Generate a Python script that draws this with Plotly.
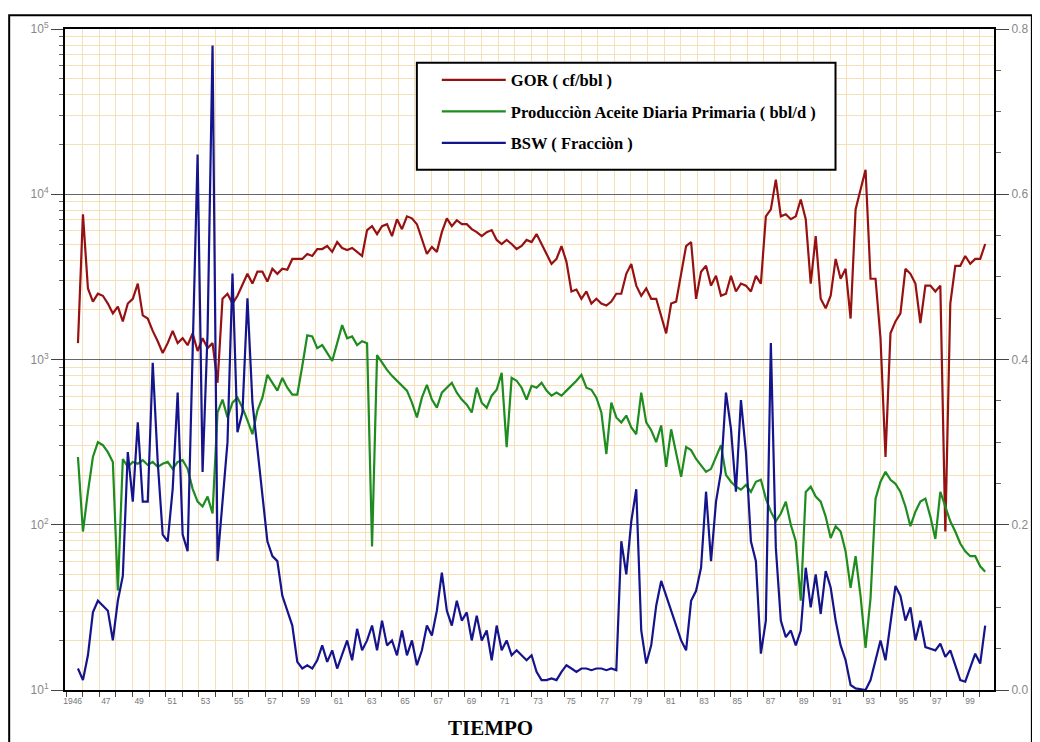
import plotly.graph_objects as go

# ---------------- data ----------------
t0 = 1945.72      # first sample (year)
dt = 0.3          # sampling step (years)

gor = [
    1256, 7560, 2690, 2240, 2500, 2430, 2180, 1900, 2090, 1700,
    2180, 2330, 2880, 1850, 1770, 1490, 1290, 1094, 1256, 1490,
    1256, 1345, 1220, 1440, 1125, 1345, 1172, 1256, 723, 2330,
    2500, 2180, 2430, 2800, 3300, 2880, 3400, 3400, 2960, 3540,
    3300, 3540, 3490, 4060, 4060, 4060, 4350, 4230, 4660, 4660,
    4860, 4480, 5140, 4730, 4600, 4730, 4480, 4230, 6070, 6410,
    5740, 6410, 6590, 5580, 7060, 6150, 7350, 7150, 6590, 5350,
    4350, 4800, 4480, 5900, 7150, 6410, 6960, 6590, 6590, 6150,
    5900, 5580, 5900, 6070, 5290, 5000, 5290, 5000, 4660, 4860,
    5290, 5140, 5740, 5000, 4350, 3790, 4060, 4860, 3900, 2580,
    2650, 2330, 2580, 2180, 2330, 2180, 2120, 2240, 2500, 2500,
    3300, 3790, 2800, 2430, 2690, 2330, 2330, 1850, 1440, 2180,
    2240, 3300, 4860, 5140, 2330, 3400, 3690, 2800, 3210, 2430,
    2500, 3210, 2580, 2880, 2800, 2580, 3210, 2880, 7350, 8100,
    12250, 7350, 7560, 7060, 7350, 9300, 7060, 2880, 5580, 2330,
    2040, 2430, 4060, 3080, 3540, 1770, 8100, 10670, 14070, 3080,
    3080, 1345, 257, 1440, 1700, 1900, 3540, 3300, 2880, 1660,
    2800, 2800, 2580, 2800, 91, 2180, 3690, 3690, 4230, 3790,
    4060, 4060, 5000,
]

oil = [
    257, 91, 158, 257, 316, 303, 275, 240, 40, 250,
    224, 240, 234, 246, 230, 240, 224, 234, 240, 218,
    240, 246, 218, 165, 138, 129, 148, 117, 478, 572,
    446, 548, 588, 511, 428, 353, 491, 588, 808, 723,
    648, 774, 675, 613, 613, 914, 1400, 1380, 1172, 1222,
    1094, 980, 1256, 1615, 1345, 1380, 1222, 1290, 1256, 74,
    1064, 953, 865, 796, 744, 693, 648, 548, 446, 588,
    703, 572, 511, 630, 675, 723, 630, 572, 533, 478,
    675, 548, 511, 604, 656, 830, 295, 774, 744, 675,
    572, 693, 675, 723, 648, 604, 630, 604, 648, 693,
    744, 808, 675, 656, 588, 478, 268, 548, 446, 416,
    458, 388, 353, 630, 416, 373, 316, 399, 224, 378,
    275, 195, 295, 283, 250, 230, 209, 218, 257, 303,
    200, 182, 170, 163, 174, 158, 182, 187, 144, 120,
    105, 117, 138, 100, 79.4, 34.7, 158, 170, 148, 138,
    112, 83, 98, 91, 69, 41.5, 64.5, 37, 18, 36,
    144, 182, 209, 187, 177, 158, 129, 98, 120, 138,
    144, 112, 82, 158, 129, 105, 91, 77, 69, 64.5,
    64.5, 56, 52,
]

bsw = [
    0.026, 0.012, 0.042, 0.094, 0.108, 0.102, 0.096, 0.060, 0.108, 0.138,
    0.288, 0.228, 0.324, 0.228, 0.228, 0.396, 0.276, 0.188, 0.180, 0.243,
    0.360, 0.188, 0.168, 0.408, 0.648, 0.264, 0.432, 0.780, 0.156, 0.228,
    0.300, 0.504, 0.312, 0.336, 0.474, 0.348, 0.291, 0.240, 0.180, 0.162,
    0.156, 0.114, 0.096, 0.078, 0.034, 0.026, 0.030, 0.026, 0.036, 0.054,
    0.034, 0.048, 0.026, 0.042, 0.060, 0.036, 0.074, 0.048, 0.060, 0.078,
    0.048, 0.084, 0.054, 0.060, 0.042, 0.072, 0.042, 0.060, 0.030, 0.048,
    0.078, 0.066, 0.096, 0.142, 0.096, 0.078, 0.108, 0.084, 0.094, 0.060,
    0.090, 0.060, 0.072, 0.036, 0.078, 0.048, 0.060, 0.042, 0.048, 0.042,
    0.036, 0.042, 0.022, 0.012, 0.012, 0.014, 0.012, 0.022, 0.030, 0.026,
    0.022, 0.026, 0.026, 0.024, 0.026, 0.026, 0.024, 0.026, 0.024, 0.180,
    0.140, 0.204, 0.243, 0.072, 0.032, 0.054, 0.102, 0.132, 0.114, 0.096,
    0.078, 0.060, 0.048, 0.108, 0.120, 0.148, 0.240, 0.156, 0.228, 0.264,
    0.360, 0.316, 0.240, 0.351, 0.288, 0.180, 0.156, 0.044, 0.084, 0.420,
    0.172, 0.084, 0.064, 0.072, 0.054, 0.072, 0.148, 0.100, 0.140, 0.092,
    0.144, 0.124, 0.084, 0.054, 0.036, 0.006, 0.002, 0.001, 0.000, 0.012,
    0.036, 0.060, 0.036, 0.084, 0.126, 0.114, 0.084, 0.100, 0.060, 0.084,
    0.052, 0.050, 0.048, 0.056, 0.040, 0.048, 0.030, 0.012, 0.010, 0.028,
    0.044, 0.032, 0.078,
]

x_labels = ["1946"] + [str(y) for y in range(47, 100, 2)]
left_ticks = [10, 100, 1000, 10000, 100000]
left_text = ["10<sup>1</sup>", "10<sup>2</sup>", "10<sup>3</sup>", "10<sup>4</sup>", "10<sup>5</sup>"]
right_ticks = [0.0, 0.2, 0.4, 0.6, 0.8]

names = ["<b>GOR ( cf/bbl )</b>",
         "<b>Producciòn Aceite Diaria Primaria ( bbl/d )</b>",
         "<b>BSW ( Fracciòn )</b>"]


def years(n):
    return [round(t0 + dt * i, 3) for i in range(n)]


# ---------------- figure ----------------
# the page adds an 8px body margin, so the figure is 8px smaller
W, H = 1032, 734
L, T = 57, 15
pw, ph = 932, 667
R = W - L - pw
B = H - T - ph
bottom = T + ph  # figure y of the x axis


def px(xf):
    return (xf - L) / pw


def py(yf):
    return (bottom - yf) / ph


fig = go.Figure()
fig.add_trace(go.Scatter(x=years(len(gor)), y=gor, mode="lines", name=names[0],
                         line=dict(color="#961212", width=2.2), legendgroup="a"))
fig.add_trace(go.Scatter(x=years(len(oil)), y=oil, mode="lines", name=names[1],
                         line=dict(color="#1e8c1e", width=2.2), legendgroup="b"))
fig.add_trace(go.Scatter(x=years(len(bsw)), y=bsw, mode="lines", name=names[2],
                         line=dict(color="#14148c", width=2.2), legendgroup="c", yaxis="y2"))

grid_light = "#f7dfb8"
minor_left = [k * 10 ** d for d in range(1, 5) for k in range(2, 10)]
minor_right = [round(0.05 * i, 2) for i in range(17) if i % 4 != 0]
x_pos = [1945.4 + 2 * k for k in range(len(x_labels))]

fig.update_layout(
    width=W, height=H,
    margin=dict(l=L, r=R, t=T, b=B),
    paper_bgcolor="white", plot_bgcolor="white",
    showlegend=True,
    legend=dict(x=px(430), y=py(49), xanchor="left", yanchor="top",
                bgcolor="rgba(0,0,0,0)", borderwidth=0, itemwidth=64,
                tracegroupgap=7,
                font=dict(family="Liberation Serif", size=16.5, color="black")),
    xaxis=dict(range=[1944.94, 2000.85], tickmode="array", tickvals=x_pos, ticktext=x_labels,
               ticks="", tickfont=dict(family="Liberation Sans", size=8.5, color="#777"),
               ticklabelstandoff=2,
               showgrid=False, zeroline=False, showline=True, linecolor="black", linewidth=2,
               mirror=True,
               minor=dict(tick0=1946, dtick=1, ticks="outside", ticklen=5, tickcolor="#444",
                          showgrid=True, gridcolor=grid_light, gridwidth=1)),
    yaxis=dict(type="log", range=[1, 5], tickmode="array", tickvals=left_ticks, ticktext=left_text,
               ticks="outside", ticklen=12, tickcolor="#444",
               tickfont=dict(family="Liberation Sans", size=12, color="#888"),
               showgrid=True, gridcolor="#666", gridwidth=1, zeroline=False,
               showline=True, linecolor="black", linewidth=2,
               minor=dict(tickmode="array", tickvals=minor_left, ticks="outside", ticklen=4,
                          tickcolor="#666", showgrid=True, gridcolor=grid_light, gridwidth=1)),
    yaxis2=dict(overlaying="y", side="right", range=[0, 0.8], tickmode="array",
                tickvals=right_ticks, ticktext=["%.1f" % v for v in right_ticks],
                ticks="outside", ticklen=13, tickcolor="#444",
                tickfont=dict(family="Liberation Sans", size=12, color="#888"),
                showgrid=False, zeroline=False, showline=True, linecolor="black", linewidth=2,
                minor=dict(tickmode="array", tickvals=minor_right, ticks="outside", ticklen=5,
                           tickcolor="#666")),
)

# legend box
fig.add_shape(type="rect", xref="paper", yref="paper",
              x0=px(410), x1=px(830), y0=py(157), y1=py(49),
              line=dict(color="black", width=2), fillcolor="white", layer="above")

# outer frame
fig.add_shape(type="rect", xref="paper", yref="paper",
              x0=px(1), x1=px(1027), y0=py(760), y1=py(1),
              line=dict(color="black", width=2), fillcolor="rgba(0,0,0,0)", layer="above")

fig.add_annotation(text="<b>TIEMPO</b>", xref="paper", yref="paper",
                   x=px(484), y=py(720), xanchor="center", yanchor="middle", showarrow=False,
                   font=dict(family="Liberation Serif", size=21, color="black"))

fig.write_html("out.html")
